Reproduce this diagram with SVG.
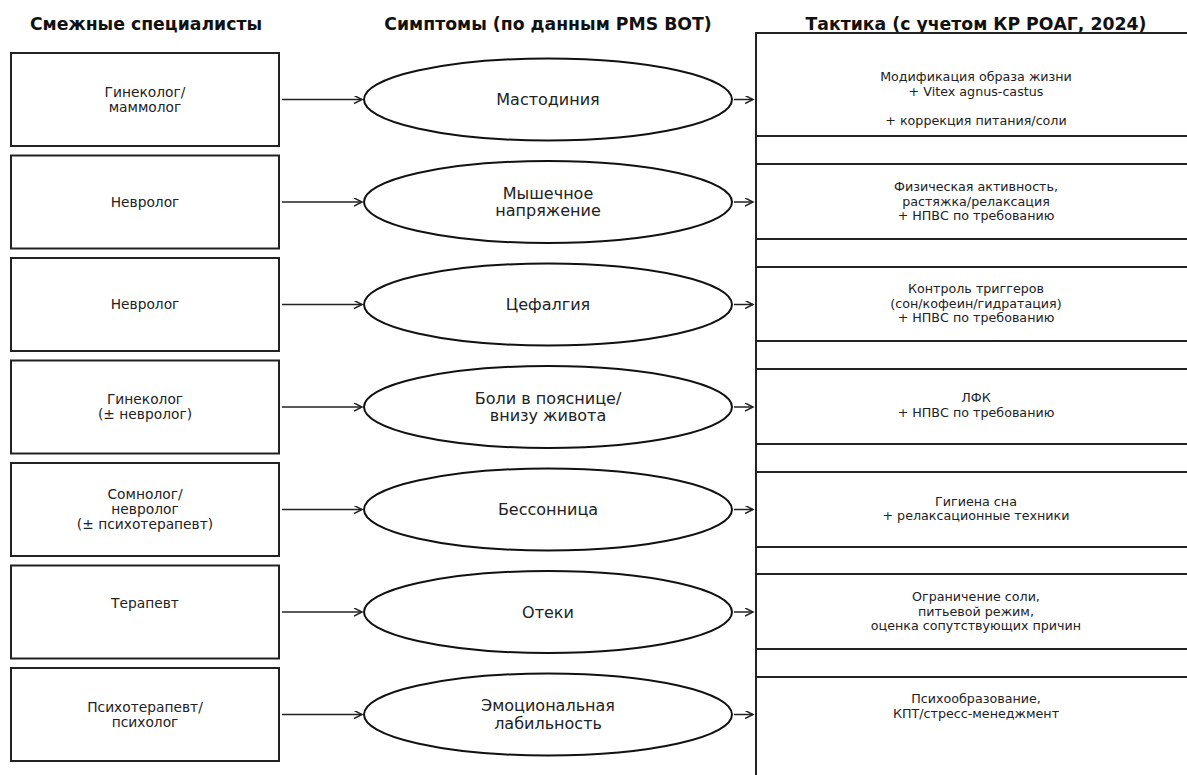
<svg xmlns="http://www.w3.org/2000/svg" width="1187" height="775" viewBox="0 0 1187 775">
<defs>
<marker id="arr" markerWidth="10" markerHeight="10" refX="8" refY="4" orient="auto" markerUnits="userSpaceOnUse">
<path d="M0,0 L8,4 L0,8" fill="none" stroke="#222" stroke-width="1.5"/>
</marker>
<style>
.hdr{font-family:"DejaVu Sans",sans-serif;font-weight:bold;font-size:17.3px;fill:#111;text-anchor:middle}
.box{fill:#fff;stroke:#222;stroke-width:2}
.ell{fill:#fff;stroke:#111;stroke-width:2}
.lt{font-family:"DejaVu Sans",sans-serif;font-size:13.8px;fill:#222;text-anchor:middle}
.et{font-family:"DejaVu Sans",sans-serif;font-size:16px;fill:#222;text-anchor:middle}
.rt{font-family:"DejaVu Sans",sans-serif;font-size:12.7px;fill:#222;text-anchor:middle}
.ln{stroke:#222;stroke-width:2;fill:none}
.con{stroke:#222;stroke-width:1.5;fill:none;marker-end:url(#arr)}
</style>
</defs>
<rect width="1187" height="775" fill="#fff"/>
<g id="headers">
<text class="hdr" x="146" y="30">Смежные специалисты</text>
<text class="hdr" x="548" y="30">Симптомы (по данным PMS BOT)</text>
<text class="hdr" x="976" y="30">Тактика (с учетом КР РОАГ, 2024)</text>
</g>
<g id="tactics-frame">
<line class="ln" x1="756" y1="33" x2="756" y2="775"/>
<line class="ln" x1="755" y1="33" x2="1187" y2="33"/>
<line class="ln" x1="756" y1="136" x2="1187" y2="136"/>
<line class="ln" x1="756" y1="164" x2="1187" y2="164"/>
<line class="ln" x1="756" y1="239" x2="1187" y2="239"/>
<line class="ln" x1="756" y1="267" x2="1187" y2="267"/>
<line class="ln" x1="756" y1="341" x2="1187" y2="341"/>
<line class="ln" x1="756" y1="369" x2="1187" y2="369"/>
<line class="ln" x1="756" y1="444" x2="1187" y2="444"/>
<line class="ln" x1="756" y1="472" x2="1187" y2="472"/>
<line class="ln" x1="756" y1="547" x2="1187" y2="547"/>
<line class="ln" x1="756" y1="574" x2="1187" y2="574"/>
<line class="ln" x1="756" y1="649" x2="1187" y2="649"/>
<line class="ln" x1="756" y1="677" x2="1187" y2="677"/>
</g>
<g id="connectors">
<line class="con" x1="282" y1="99.5" x2="362" y2="99.5"/>
<line class="con" x1="282" y1="202" x2="362" y2="202"/>
<line class="con" x1="282" y1="304.5" x2="362" y2="304.5"/>
<line class="con" x1="282" y1="407" x2="362" y2="407"/>
<line class="con" x1="282" y1="509.5" x2="362" y2="509.5"/>
<line class="con" x1="282" y1="612" x2="362" y2="612"/>
<line class="con" x1="282" y1="714.5" x2="362" y2="714.5"/>
<line class="con" x1="734" y1="99.5" x2="753" y2="99.5"/>
<line class="con" x1="734" y1="202" x2="753" y2="202"/>
<line class="con" x1="734" y1="304.5" x2="753" y2="304.5"/>
<line class="con" x1="734" y1="407" x2="753" y2="407"/>
<line class="con" x1="734" y1="509.5" x2="753" y2="509.5"/>
<line class="con" x1="734" y1="612" x2="753" y2="612"/>
<line class="con" x1="734" y1="714.5" x2="753" y2="714.5"/>
</g>
<g id="spec1"><rect class="box" x="11" y="53" width="268" height="93"/><text class="lt" x="145" y="97">Гинеколог/</text><text class="lt" x="145" y="112">маммолог</text></g>
<g id="spec2"><rect class="box" x="11" y="155.5" width="268" height="93"/><text class="lt" x="145" y="206.5">Невролог</text></g>
<g id="spec3"><rect class="box" x="11" y="258" width="268" height="93"/><text class="lt" x="145" y="309">Невролог</text></g>
<g id="spec4"><rect class="box" x="11" y="360.5" width="268" height="93"/><text class="lt" x="145" y="404">Гинеколог</text><text class="lt" x="145" y="419">(± невролог)</text></g>
<g id="spec5"><rect class="box" x="11" y="463" width="268" height="93"/><text class="lt" x="145" y="499">Сомнолог/</text><text class="lt" x="145" y="514">невролог</text><text class="lt" x="145" y="529">(± психотерапевт)</text></g>
<g id="spec6"><rect class="box" x="11" y="565.5" width="268" height="93"/><text class="lt" x="145" y="608">Терапевт</text></g>
<g id="spec7"><rect class="box" x="11" y="668" width="268" height="93"/><text class="lt" x="145" y="711.5">Психотерапевт/</text><text class="lt" x="145" y="726.5">психолог</text></g>
<g id="sym1"><ellipse class="ell" cx="548" cy="99.5" rx="184" ry="41"/><text class="et" x="548" y="105">Мастодиния</text></g>
<g id="sym2"><ellipse class="ell" cx="548" cy="202" rx="184" ry="41"/><text class="et" x="548" y="198.5">Мышечное</text><text class="et" x="548" y="216">напряжение</text></g>
<g id="sym3"><ellipse class="ell" cx="548" cy="304.5" rx="184" ry="41"/><text class="et" x="548" y="310">Цефалгия</text></g>
<g id="sym4"><ellipse class="ell" cx="548" cy="407" rx="184" ry="41"/><text class="et" x="548" y="403.5">Боли в пояснице/</text><text class="et" x="548" y="421">внизу живота</text></g>
<g id="sym5"><ellipse class="ell" cx="548" cy="509.5" rx="184" ry="41"/><text class="et" x="548" y="515">Бессонница</text></g>
<g id="sym6"><ellipse class="ell" cx="548" cy="612" rx="184" ry="41"/><text class="et" x="548" y="617.5">Отеки</text></g>
<g id="sym7"><ellipse class="ell" cx="548" cy="714.5" rx="184" ry="41"/><text class="et" x="548" y="711">Эмоциональная</text><text class="et" x="548" y="728.5">лабильность</text></g>
<g id="tac1"><text class="rt" x="976" y="81">Модификация образа жизни</text><text class="rt" x="976" y="96">+ Vitex agnus-castus</text><text class="rt" x="976" y="125">+ коррекция питания/соли</text></g>
<g id="tac2"><text class="rt" x="976" y="191">Физическая активность,</text><text class="rt" x="976" y="205.5">растяжка/релаксация</text><text class="rt" x="976" y="220">+ НПВС по требованию</text></g>
<g id="tac3"><text class="rt" x="976" y="293">Контроль триггеров</text><text class="rt" x="976" y="307.5">(сон/кофеин/гидратация)</text><text class="rt" x="976" y="322">+ НПВС по требованию</text></g>
<g id="tac4"><text class="rt" x="976" y="402">ЛФК</text><text class="rt" x="976" y="417">+ НПВС по требованию</text></g>
<g id="tac5"><text class="rt" x="976" y="505.5">Гигиена сна</text><text class="rt" x="976" y="520">+ релаксационные техники</text></g>
<g id="tac6"><text class="rt" x="976" y="601">Ограничение соли,</text><text class="rt" x="976" y="615.5">питьевой режим,</text><text class="rt" x="976" y="630">оценка сопутствующих причин</text></g>
<g id="tac7"><text class="rt" x="976" y="703">Психообразование,</text><text class="rt" x="976" y="717.5">КПТ/стресс-менеджмент</text></g>
</svg>
